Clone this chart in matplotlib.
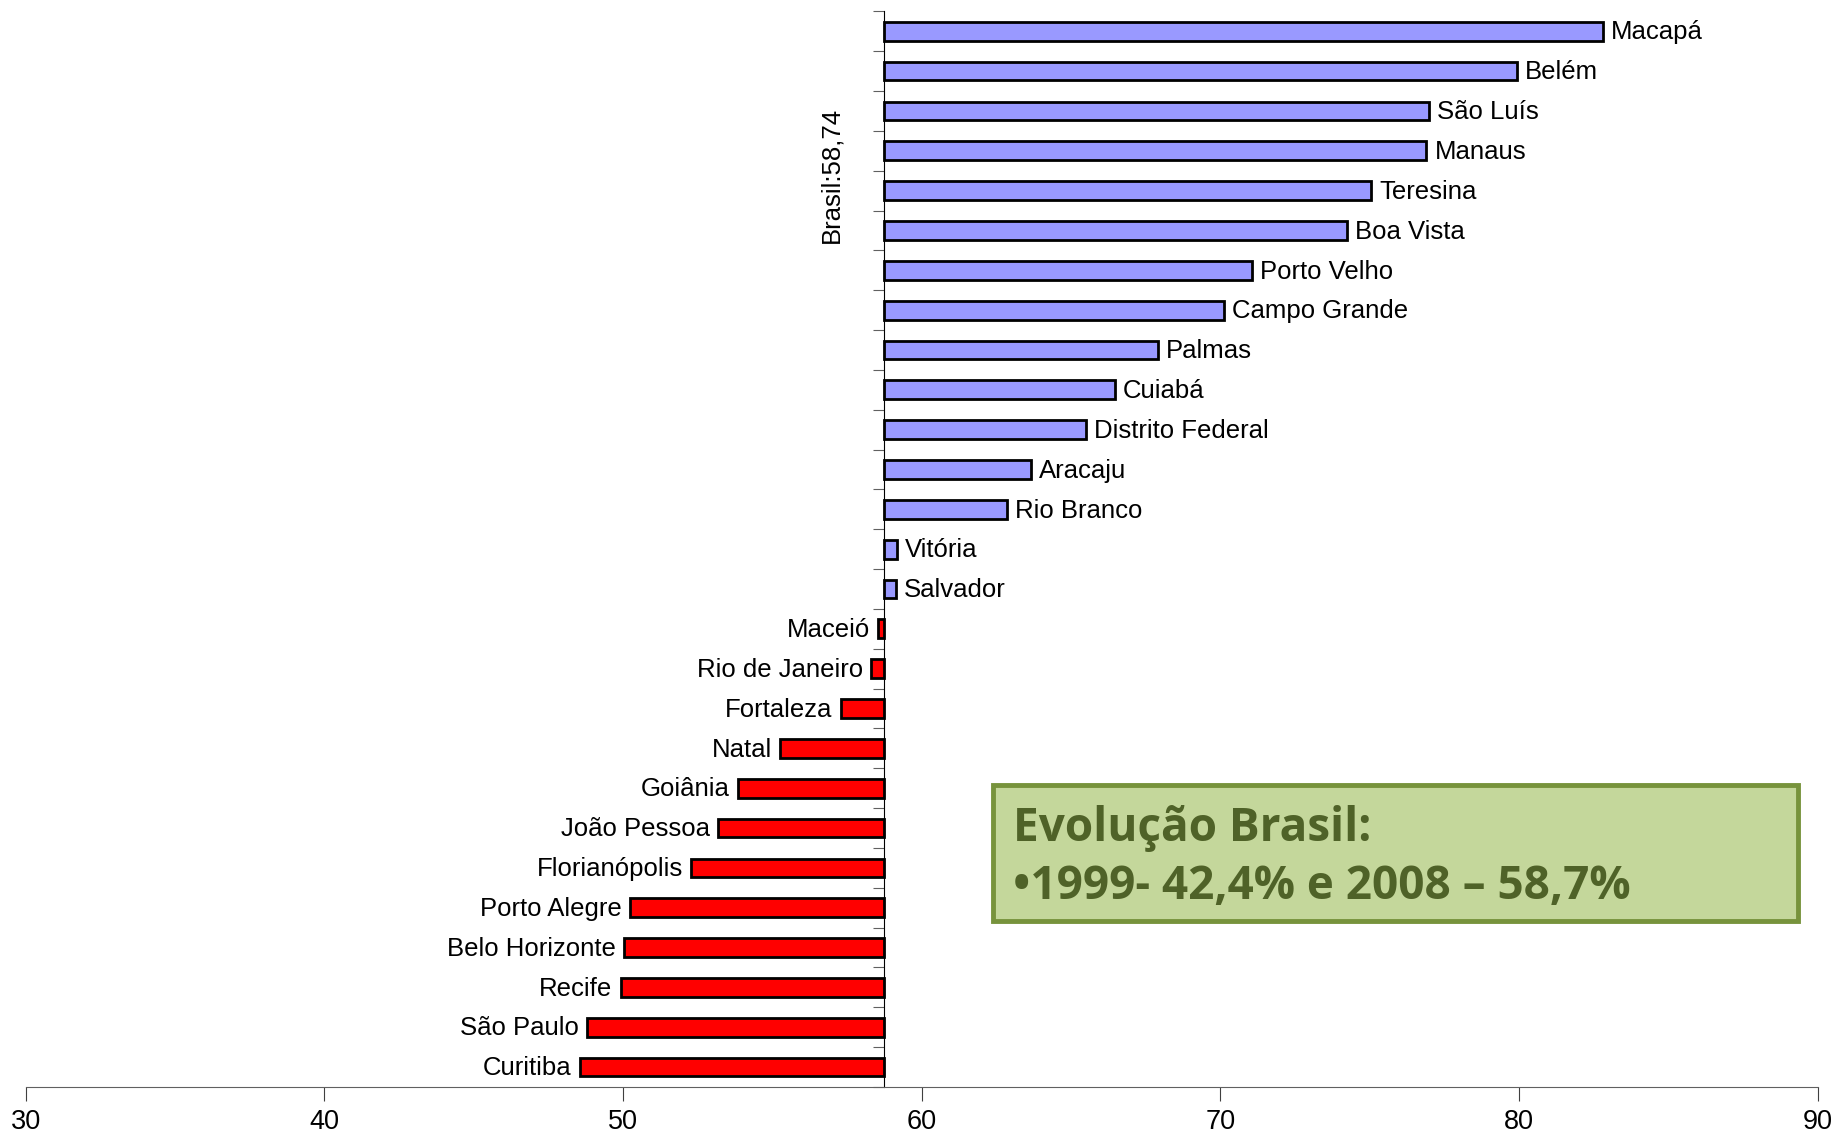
import matplotlib.pyplot as plt
from matplotlib.patches import Rectangle

plt.rcParams['font.family'] = ['Liberation Sans', 'DejaVu Sans']

brasil = 58.74

cidades = ["Curitiba", "São Paulo", "Recife", "Belo Horizonte", "Porto Alegre",
           "Florianópolis", "João Pessoa", "Goiânia", "Natal", "Fortaleza",
           "Rio de Janeiro", "Maceió", "Salvador", "Vitória", "Rio Branco",
           "Aracaju", "Distrito Federal", "Cuiabá", "Palmas", "Campo Grande",
           "Porto Velho", "Boa Vista", "Teresina", "Manaus", "São Luís",
           "Belém", "Macapá"]
valores = [48.55, 48.78, 49.92, 50.04, 50.24,
           52.27, 53.18, 53.84, 55.25, 57.29,
           58.31, 58.55, 59.14, 59.18, 62.86,
           63.65, 65.49, 66.47, 67.92, 70.12,
           71.06, 74.24, 75.06, 76.9, 76.98,
           79.92, 82.82]

fig = plt.figure(figsize=(18.36, 11.37), dpi=100)
ax = fig.add_axes([0.014, 0.044, 0.976, 0.946])

y = list(range(len(cidades)))
difs = [v - brasil for v in valores]
cores = ["#9999FF" if d > 0 else "#FF0000" for d in difs]
ax.barh(y, difs, left=brasil, height=0.47, color=cores, edgecolor="black", linewidth=2)

for i, v in enumerate(valores):
    if v >= brasil:
        ax.text(v + 0.27, i - 0.03, cidades[i], ha="left", va="center", fontsize=18.5)
    else:
        ax.text(v - 0.27, i - 0.03, cidades[i], ha="right", va="center", fontsize=18.5)

ax.set_xlim(30, 90)
ax.set_ylim(-0.45, len(cidades) - 0.5)
ax.set_xticks(range(30, 91, 10))
ax.tick_params(axis="x", labelsize=19.5, length=10, color="#404040", pad=6)

for s in ["top", "right"]:
    ax.spines[s].set_visible(False)
ax.spines["left"].set_position(("data", brasil))
ax.spines["left"].set_color("black")
ax.spines["bottom"].set_color("#606060")
ax.set_yticks([k + 0.5 for k in range(-1, len(cidades))])
ax.set_yticklabels([])
ax.tick_params(axis="y", length=8, color="#606060")

ax.text(brasil - 1.76, 22.4, "Brasil:58,74", rotation=90, ha="center", va="center", fontsize=18.5)

ax.add_patch(Rectangle((0.540, 0.154), 0.449, 0.127, transform=ax.transAxes,
                       facecolor="#C4D79B", edgecolor="#77933C", linewidth=3.5, zorder=5))
ax.text(0.551, 0.240, "Evolução Brasil:", transform=ax.transAxes, fontsize=33,
        fontweight="bold", color="#4F6228", family="Open Sans", va="center", zorder=6)
ax.text(0.551, 0.186, "•1999- 42,4% e 2008 – 58,7%", transform=ax.transAxes, fontsize=33,
        fontweight="bold", color="#4F6228", family="Open Sans", va="center", zorder=6)

fig.savefig("out.png")
